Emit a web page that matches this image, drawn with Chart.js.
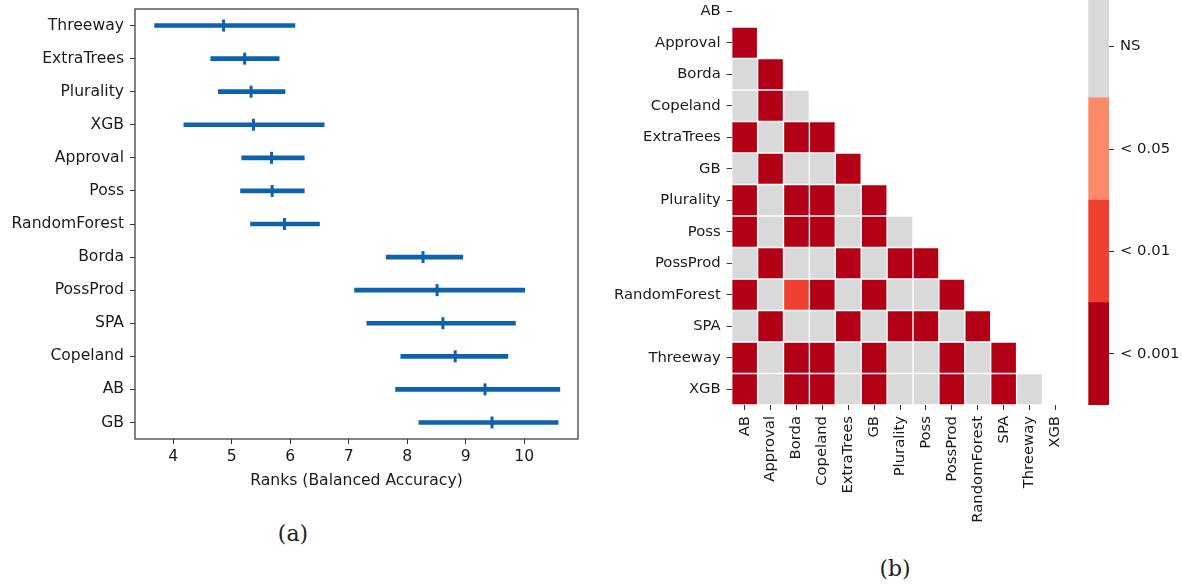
<!DOCTYPE html>
<html>
<head>
<meta charset="utf-8">
<script src="https://cdn.jsdelivr.net/npm/chart.js@4.4.0/dist/chart.umd.min.js"></script>
<style>
  html, body { margin: 0; padding: 0; background: #fff; }
  body { position: relative; width: 1182px; height: 584px; overflow: hidden; }
  canvas { position: absolute; }
  .cap { position: absolute; font-family: 'DejaVu Serif', serif; font-size: 22px; color: #222;
         transform: translate(-50%, -50%); white-space: nowrap; }
</style>
</head>
<body>
<canvas id="ranks" width="590" height="490" style="left:0;top:0"></canvas>
<canvas id="pairs" width="480" height="545" style="left:600px;top:-10px"></canvas>
<canvas id="legendBar" width="102" height="430" style="left:1080px;top:-10px"></canvas>
<div class="cap" style="left:293px;top:533px">(a)</div>
<div class="cap" style="left:895px;top:568px">(b)</div>

<script>
// ---- (a) rank intervals per method ----
const methods   = ['Threeway', 'ExtraTrees', 'Plurality', 'XGB', 'Approval', 'Poss', 'RandomForest',
                   'Borda', 'PossProd', 'SPA', 'Copeland', 'AB', 'GB'];
const rankMean  = [4.86, 5.22, 5.33, 5.37, 5.68, 5.69, 5.90, 8.27, 8.51, 8.61, 8.82, 9.33, 9.45];
const rankLow   = [3.68, 4.64, 4.77, 4.18, 5.17, 5.15, 5.32, 7.64, 7.10, 7.31, 7.89, 7.80, 8.20];
const rankHigh  = [6.08, 5.81, 5.91, 6.58, 6.24, 6.24, 6.50, 8.95, 10.01, 9.85, 9.72, 10.61, 10.58];
const rankTicks = [4, 5, 6, 7, 8, 9, 10];

// ---- (b) pairwise significance (lower triangle) ----
const pairNames = ['AB', 'Approval', 'Borda', 'Copeland', 'ExtraTrees', 'GB', 'Plurality', 'Poss',
                   'PossProd', 'RandomForest', 'SPA', 'Threeway', 'XGB'];
const sigLevels = ['NS', '< 0.05', '< 0.01', '< 0.001'];
// index into sigLevels for each pair (row, column) with column < row
const sigRows = [
  [],
  [3],
  [0, 3],
  [0, 3, 0],
  [3, 0, 3, 3],
  [0, 3, 0, 0, 3],
  [3, 0, 3, 3, 0, 3],
  [3, 0, 3, 3, 0, 3, 0],
  [0, 3, 0, 0, 3, 0, 3, 3],
  [3, 0, 2, 3, 0, 3, 0, 0, 3],
  [0, 3, 0, 0, 3, 0, 3, 3, 0, 3],
  [3, 0, 3, 3, 0, 3, 0, 0, 3, 0, 3],
  [3, 0, 3, 3, 0, 3, 0, 0, 3, 0, 3, 0]
];

const levelColors = ['#d9d9d9', '#fc8a6a', '#f0402f', '#b40016'];
const blue = '#0d62ad';
const ink = '#1a1a1a';
const tickInk = '#333';

Chart.defaults.font.family = "'DejaVu Sans', sans-serif";
Chart.defaults.color = ink;
Chart.defaults.animation = false;
Chart.defaults.plugins.legend.display = false;
Chart.defaults.plugins.tooltip.enabled = false;

// keep the plot area exactly where the layout padding puts it
function noEdgePadding(s) {
  s.paddingTop = 0; s.paddingBottom = 0; s.paddingLeft = 0; s.paddingRight = 0;
}

const boxFrame = {
  id: 'boxFrame',
  afterDraw(chart) {
    const { ctx, chartArea: a } = chart;
    ctx.save();
    ctx.strokeStyle = tickInk;
    ctx.lineWidth = 1.2;
    ctx.strokeRect(a.left, a.top, a.right - a.left, a.bottom - a.top);
    ctx.restore();
  }
};

new Chart(document.getElementById('ranks'), {
  type: 'bar',
  data: {
    labels: methods,
    datasets: [
      {
        type: 'bar',
        indexAxis: 'y',
        data: methods.map((_, i) => [rankLow[i], rankHigh[i]]),
        backgroundColor: blue,
        borderWidth: 0,
        barThickness: 4,
        grouped: false
      },
      {
        type: 'line',
        indexAxis: 'y',
        data: methods.map((m, i) => ({ x: rankMean[i], y: m })),
        showLine: false,
        pointStyle: 'line',
        rotation: 90,
        radius: 6,
        borderWidth: 3,
        borderColor: blue,
        backgroundColor: blue
      }
    ]
  },
  options: {
    responsive: false,
    indexAxis: 'y',
    layout: { padding: { left: 0, right: 12, top: 8, bottom: 0 } },
    scales: {
      x: {
        type: 'linear',
        min: 3.345,
        max: 10.92,
        afterBuildTicks: s => { s.ticks = rankTicks.map(v => ({ value: v })); },
        afterFit: s => { s.height = 51; noEdgePadding(s); },
        border: { display: false },
        grid: { drawOnChartArea: false, drawTicks: true, tickLength: 5, color: tickInk, lineWidth: 1 },
        ticks: { font: { size: 15.6 }, color: ink, padding: 4 },
        title: { display: true, text: 'Ranks (Balanced Accuracy)', font: { size: 15.6 }, color: ink,
                 padding: { top: 0, bottom: 0 } }
      },
      y: {
        type: 'category',
        afterFit: s => { s.width = 135; noEdgePadding(s); },
        border: { display: false },
        grid: { offset: false, drawOnChartArea: false, drawTicks: true, tickLength: 5, color: tickInk, lineWidth: 1 },
        ticks: { font: { size: 15.6 }, color: ink, padding: 6, autoSkip: false }
      }
    }
  },
  plugins: [boxFrame]
});

// heatmap: one floating-bar dataset per row, each cell spans [row, row+1]
const heatDatasets = pairNames.map((_, i) => ({
  data: pairNames.map((__, j) => (j < i ? [i, i + 1] : null)),
  backgroundColor: pairNames.map((__, j) => (j < i ? levelColors[sigRows[i][j]] : 'rgba(0,0,0,0)')),
  borderColor: '#ffffff',
  borderWidth: 1,
  borderSkipped: false,
  barPercentage: 1,
  categoryPercentage: 1,
  grouped: false
}));

new Chart(document.getElementById('pairs'), {
  type: 'bar',
  data: { labels: pairNames, datasets: heatDatasets },
  options: {
    responsive: false,
    layout: { padding: { left: 0, right: 11.6, top: 5.5, bottom: 0 } },
    scales: {
      x: {
        type: 'category',
        offset: true,
        afterFit: s => { s.height = 130; noEdgePadding(s); },
        border: { display: false },
        grid: { offset: false, drawOnChartArea: false, drawTicks: true, tickLength: 5, color: tickInk, lineWidth: 1 },
        ticks: { font: { size: 14.8 }, color: ink, padding: 6, autoSkip: false, minRotation: 90, maxRotation: 90 }
      },
      y: {
        type: 'linear',
        min: 0,
        max: pairNames.length,
        reverse: true,
        afterBuildTicks: s => { s.ticks = pairNames.map((_, i) => ({ value: i + 0.5 })); },
        afterFit: s => { s.width = 131.7; noEdgePadding(s); },
        border: { display: false },
        grid: { drawOnChartArea: false, drawTicks: true, tickLength: 5, color: tickInk, lineWidth: 1 },
        ticks: { font: { size: 14.8 }, color: ink, padding: 6, autoSkip: false,
                 callback: (v, idx) => pairNames[idx] }
      }
    }
  }
});

// color key: lowest band is the strongest level
new Chart(document.getElementById('legendBar'), {
  type: 'bar',
  data: {
    labels: [''],
    datasets: sigLevels.map((_, k) => ({
      data: [[k, k + 1]],
      backgroundColor: levelColors[sigLevels.length - 1 - k],
      borderWidth: 0,
      barPercentage: 1,
      categoryPercentage: 1,
      grouped: false
    }))
  },
  options: {
    responsive: false,
    layout: { padding: { left: 8.3, right: 0, top: 5.4, bottom: 15 } },
    scales: {
      x: { display: false, offset: true },
      y: {
        type: 'linear',
        position: 'right',
        min: 0,
        max: sigLevels.length,
        afterBuildTicks: s => { s.ticks = sigLevels.map((_, k) => ({ value: k + 0.5 })); },
        afterFit: s => { s.width = 73; noEdgePadding(s); },
        border: { display: false },
        grid: { drawOnChartArea: false, drawTicks: true, tickLength: 5, color: tickInk, lineWidth: 1 },
        ticks: { font: { size: 14.8 }, color: ink, padding: 6,
                 callback: (v, idx) => sigLevels[sigLevels.length - 1 - idx] }
      }
    }
  }
});
</script>
</body>
</html>
